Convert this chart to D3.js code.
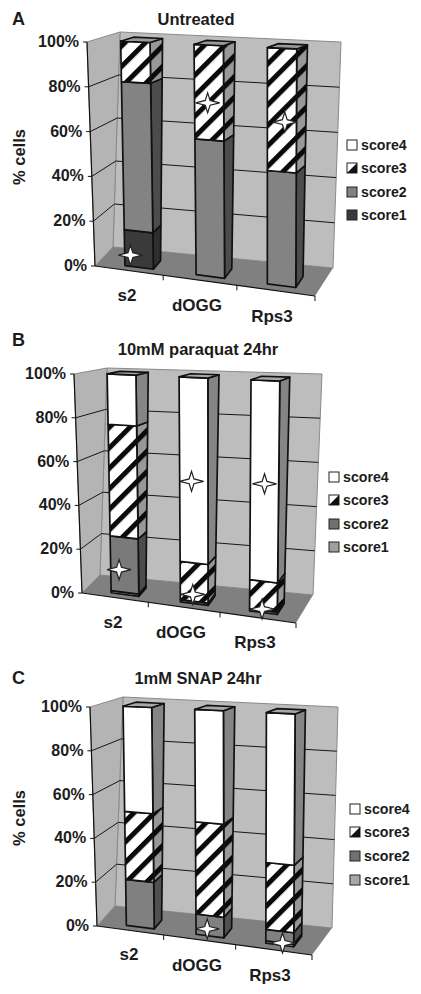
<!DOCTYPE html>
<html>
<head>
<meta charset="utf-8">
<script src="https://cdn.jsdelivr.net/npm/d3@7"></script>
<style>
  html, body { margin: 0; padding: 0; background: #fff; }
  text { font-family: "Liberation Sans", Arial, sans-serif; font-weight: bold; fill: #1c1c1c; }
</style>
</head>
<body>
<div id="chart"></div>
<script>
// ========================
// Data
// ========================
const categories = ["s2", "dOGG", "Rps3"];
const scoreNames = ["score1", "score2", "score3", "score4"];
const tickValues = [0, 20, 40, 60, 80, 100];
const floorTicks = [0.31, 0.645, 1];

// % cells per bar, one row per category, columns score1..score4
const untreatedValues = [[16, 66, 18, 0], [0, 59, 41, 0], [0, 48, 52, 0]];
const paraquatValues = [[1, 25, 51, 23], [0, 1, 17, 82], [0, 1, 12.5, 86.5]];
const snapValues = [[0, 21, 31, 48], [0, 9, 41, 50], [1, 5, 29, 65]];

// stars: category index, value height, place across the bar front (0..1)
const untreatedStars = [[0, 5, 0.2], [1, 75, 0.45], [2, 69, 0.6]];
const paraquatStars = [[0, 11, 0.3], [1, 54, 0.42], [2, 55.5, 0.5], [1, 4, 0.45], [2, 1.5, 0.45]];
const snapStars = [[1, 3, 0.4], [2, 1, 0.6]];

// ========================
// Layout of the three panels
// ========================
const panels = [
  { letter: "A", title: "Untreated", values: untreatedValues, stars: untreatedStars,
    letterX: 12, letterY: 25, titleX: 196, titleY: 25,
    top: { fl: [87, 42], bl: [120, 32], br: [341, 42], fr: [315, 52] },
    bottom: { fl: [95, 266], bl: [113, 247], br: [333, 268], fr: [315, 296] },
    catPos: [[127, 301], [197, 311], [272, 322]],
    yTitle: [25, 157], legendX: 347, legendY: [145, 168, 192, 215],
    fills: ["#3a3a3a", "#838383", "hatch", "#ffffff"],
    sides: ["#2e2e2e", "#4c4c4c", "hatchSide", "#8a8a8a"],
    legend: ["#3a3a3a", "#808080", "split", "#ffffff"] },
  { letter: "B", title: "10mM paraquat 24hr", values: paraquatValues, stars: paraquatStars,
    letterX: 12, letterY: 346, titleX: 198, titleY: 355,
    top: { fl: [74, 374], bl: [107, 368], br: [322, 374], fr: [298, 384] },
    bottom: { fl: [82, 593], bl: [100, 575], br: [313, 595], fr: [296, 623] },
    catPos: [[113, 628], [181, 638], [255, 648]],
    yTitle: null, legendX: 329, legendY: [477, 500, 524, 547],
    fills: ["#a0a0a0", "#7a7a7a", "hatch", "#ffffff"],
    sides: ["#888888", "#4c4c4c", "hatchSide", "#858585"],
    legend: ["#a0a0a0", "#707070", "split", "#ffffff"] },
  { letter: "C", title: "1mM SNAP 24hr", values: snapValues, stars: snapStars,
    letterX: 12, letterY: 684, titleX: 198, titleY: 684,
    top: { fl: [90, 707], bl: [123, 697], br: [338, 707], fr: [313, 717] },
    bottom: { fl: [97, 926], bl: [115, 906], br: [332, 928], fr: [312, 955] },
    catPos: [[129, 960], [197, 971], [270, 981]],
    yTitle: [25, 818], legendX: 350, legendY: [809, 832, 856, 880],
    fills: ["#a8a8a8", "#808080", "hatch", "#ffffff"],
    sides: ["#5c5c5c", "#505050", "hatchSide", "#858585"],
    legend: ["#a8a8a8", "#707070", "split", "#ffffff"] }
];

const svg = d3.select("#chart").append("svg")
  .attr("width", 421).attr("height", 994)
  .style("display", "block");

// ========================
// Hatch patterns
// ========================
const defs = svg.append("defs");
function addHatch(id, bg, angle) {
  const p = defs.append("pattern").attr("id", id)
    .attr("patternUnits", "userSpaceOnUse")
    .attr("width", 14.5).attr("height", 14.5)
    .attr("patternTransform", `rotate(${angle})`);
  p.append("rect").attr("width", 14.5).attr("height", 14.5).attr("fill", bg);
  p.append("rect").attr("width", 14.5).attr("height", 5).attr("fill", "#0a0a0a");
}
addHatch("hatch", "#ffffff", -45);
addHatch("hatchSide", "#989898", -45);
const paint = c => (c.startsWith("hatch") ? `url(#${c})` : c);

// depth of the bars between front (0) and back wall (1)
const barFront = 0.2;
const barBack = 0.6;

const uScale = d3.scaleBand().domain(categories).range([0.003, 1.013]).paddingInner(0.6).paddingOuter(0.36);
const wScale = d3.scaleLinear().domain([0, 100]).range([0, 1]);
const line = d3.line();

panels.forEach(panel => {
  const g = svg.append("g");

  // project (u along categories, v into depth, value up) to the page
  const plane = (q, u, v) => {
    const lerp = (a, b, t) => a + (b - a) * t;
    return [0, 1].map(i => lerp(lerp(q.fl[i], q.fr[i], u), lerp(q.bl[i], q.br[i], u), v));
  };
  const project = (u, v, value) => {
    const t = wScale(value), a = plane(panel.bottom, u, v), b = plane(panel.top, u, v);
    return [a[0] + (b[0] - a[0]) * t, a[1] + (b[1] - a[1]) * t];
  };
  const face = (pts, fill) => g.append("path")
    .attr("d", line(pts) + "Z")
    .attr("fill", fill)
    .attr("stroke", "#111").attr("stroke-width", 1.7).attr("stroke-linejoin", "round");

  // --- Walls and floor ---
  g.append("path").attr("d", line([project(0, 1, 0), project(1, 1, 0), project(1, 1, 100), project(0, 1, 100)]) + "Z")
    .attr("fill", "#bdbdbd").attr("stroke", "#8a8a8a");
  g.append("path").attr("d", line([project(0, 0, 0), project(0, 1, 0), project(0, 1, 100), project(0, 0, 100)]) + "Z")
    .attr("fill", "#b4b4b4").attr("stroke", "#8a8a8a");
  g.append("path").attr("d", line([project(0, 0, 0), project(1, 0, 0), project(1, 1, 0), project(0, 1, 0)]) + "Z")
    .attr("fill", "#808080");

  // --- Grid lines ---
  tickValues.filter(t => t > 0 && t < 100).forEach(t => {
    g.append("path")
      .attr("d", line([project(0, 0, t), project(0, 1, t), project(1, 1, t)]))
      .attr("fill", "none").attr("stroke", "#161616").attr("stroke-width", 1);
  });

  // --- Axes ---
  g.append("path").attr("d", line([project(0, 0, 0), project(0, 0, 100)]))
    .attr("stroke", "#111").attr("stroke-width", 1.2).attr("fill", "none");
  g.append("path").attr("d", line([project(0, 0, 0), project(1, 0, 0)]))
    .attr("stroke", "#111").attr("stroke-width", 1.2).attr("fill", "none");
  tickValues.forEach(t => {
    const p = project(0, 0, t);
    g.append("line").attr("x1", p[0] - 4).attr("y1", p[1]).attr("x2", p[0]).attr("y2", p[1])
      .attr("stroke", "#111");
    g.append("text").attr("x", p[0] - 8).attr("y", p[1] + 5)
      .attr("text-anchor", "end").style("font-size", "16px").text(t + "%");
  });
  floorTicks.forEach(u => {
    const p = project(u, 0, 0);
    g.append("line").attr("x1", p[0]).attr("y1", p[1]).attr("x2", p[0]).attr("y2", p[1] + 5)
      .attr("stroke", "#111");
  });

  // --- Bars ---
  categories.forEach((cat, ci) => {
    const u0 = uScale(cat), u1 = u0 + uScale.bandwidth();
    let base = 0;
    panel.values[ci].forEach((val, si) => {
      if (val === 0) return;
      const next = base + val;
      face([project(u1, barFront, base), project(u1, barBack, base), project(u1, barBack, next), project(u1, barFront, next)],
        paint(panel.sides[si]));
      face([project(u0, barFront, base), project(u1, barFront, base), project(u1, barFront, next), project(u0, barFront, next)],
        paint(panel.fills[si]));
      base = next;
    });
    // cap takes the side colour of the top segment
    const lastScore = d3.max(panel.values[ci].map((v, i) => (v > 0 ? i : -1)));
    face([project(u0, barFront, base), project(u1, barFront, base), project(u1, barBack, base), project(u0, barBack, base)],
      panel.sides[lastScore] === "hatchSide" ? "#9a9a9a" : "#a8a8a8");
  });

  // --- Stars ---
  panel.stars.forEach(([ci, value, across]) => {
    const u0 = uScale(categories[ci]);
    const p = project(u0 + uScale.bandwidth() * across, barFront, value);
    const rx = 12, ry = 10, k = 2.4;
    const pts = [[0, -ry], [k, -k], [rx, 0], [k, k], [0, ry], [-k, k], [-rx, 0], [-k, -k]]
      .map(d => [p[0] + d[0], p[1] + d[1]]);
    g.append("path").attr("d", line(pts) + "Z")
      .attr("fill", "#fff").attr("stroke", "#222").attr("stroke-width", 1.2);
  });

  // --- Text ---
  g.append("text").attr("x", panel.letterX).attr("y", panel.letterY)
    .style("font-size", "18px").text(panel.letter);
  g.append("text").attr("x", panel.titleX).attr("y", panel.titleY)
    .attr("text-anchor", "middle").style("font-size", "16.5px").text(panel.title);
  categories.forEach((cat, i) => {
    g.append("text").attr("x", panel.catPos[i][0]).attr("y", panel.catPos[i][1])
      .attr("text-anchor", "middle").style("font-size", "17px").text(cat);
  });
  if (panel.yTitle) {
    g.append("text")
      .attr("transform", `translate(${panel.yTitle[0]},${panel.yTitle[1]}) rotate(-90)`)
      .attr("text-anchor", "middle").style("font-size", "16.5px").text("% cells");
  }

  // --- Legend (score4 on top) ---
  scoreNames.slice().reverse().forEach((name, i) => {
    const si = scoreNames.length - 1 - i;
    const y = panel.legendY[i], x = panel.legendX, size = 10;
    const colour = panel.legend[si];
    g.append("rect").attr("x", x).attr("y", y - size / 2).attr("width", size).attr("height", size)
      .attr("fill", colour === "split" ? "#fff" : colour)
      .attr("stroke", "#222").attr("stroke-width", 1);
    if (colour === "split") {
      g.append("path")
        .attr("d", line([[x + size, y - size / 2], [x + size, y + size / 2], [x, y + size / 2]]) + "Z")
        .attr("fill", "#111");
    }
    g.append("text").attr("x", x + 14).attr("y", y + 5)
      .style("font-size", "14.2px").text(name);
  });
});
</script>
</body>
</html>
